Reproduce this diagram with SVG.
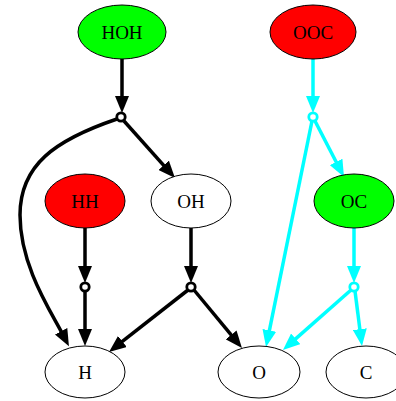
<svg xmlns="http://www.w3.org/2000/svg" width="396" height="401" viewBox="0 0 396 401">
<style>
.n ellipse{stroke:#000;stroke-width:1}
.n text{font-family:"Liberation Serif","Times New Roman",serif;font-size:19px;text-anchor:middle;dominant-baseline:central}
.k{stroke:#000;stroke-width:3.5;fill:none}
.c{stroke:#00ffff;stroke-width:3.5;fill:none}
.jk{stroke:#000;stroke-width:2.8;fill:#fff}
.jc{stroke:#00ffff;stroke-width:2.8;fill:#fff}
</style>
<defs>
<marker id="ak" viewBox="0 -7 17 14" markerWidth="17" markerHeight="14" refX="2" refY="0" orient="auto" markerUnits="userSpaceOnUse"><path d="M0,-7L17,0L0,7z" fill="#000"/></marker>
<marker id="ac" viewBox="0 -7 17 14" markerWidth="17" markerHeight="14" refX="2" refY="0" orient="auto" markerUnits="userSpaceOnUse"><path d="M0,-7L17,0L0,7z" fill="#00ffff"/></marker>
</defs>
<g id="edges">
<line class="k" x1="122" y1="59" x2="122" y2="98" marker-end="url(#ak)"/>
<line class="k" x1="124" y1="121" x2="165" y2="166.8" marker-end="url(#ak)"/>
<path class="k" d="M117,119 C55,140 20,165 20,215 C20,265 50,310 62,333" marker-end="url(#ak)"/>
<line class="k" x1="85" y1="228" x2="85" y2="268" marker-end="url(#ak)"/>
<line class="k" x1="85" y1="291" x2="85" y2="331" marker-end="url(#ak)"/>
<line class="k" x1="191" y1="228" x2="191" y2="268" marker-end="url(#ak)"/>
<line class="k" x1="188" y1="290" x2="120.8" y2="342.7" marker-end="url(#ak)"/>
<line class="k" x1="194" y1="290" x2="232.4" y2="336.4" marker-end="url(#ak)"/>
<line class="c" x1="313" y1="59" x2="313" y2="98" marker-end="url(#ac)"/>
<line class="c" x1="315" y1="121" x2="337.1" y2="163.7" marker-end="url(#ac)"/>
<line class="c" x1="312" y1="121" x2="269" y2="332.3" marker-end="url(#ac)"/>
<line class="c" x1="354" y1="228" x2="354" y2="268" marker-end="url(#ac)"/>
<line class="c" x1="351" y1="290" x2="294.2" y2="340.1" marker-end="url(#ac)"/>
<line class="c" x1="355" y1="291" x2="360.1" y2="331.1" marker-end="url(#ac)"/>
<circle class="jk" cx="121" cy="117" r="4.2"/>
<circle class="jc" cx="313" cy="117" r="4.2"/>
<circle class="jk" cx="85" cy="287" r="4.2"/>
<circle class="jk" cx="191" cy="287" r="4.2"/>
<circle class="jc" cx="354" cy="287" r="4.2"/>
</g>
<g id="HOH" class="n"><ellipse cx="122" cy="32" rx="44" ry="27" fill="#00ff00" stroke="#00ff00"/><text x="122" y="32">HOH</text></g>
<g id="OOC" class="n"><ellipse cx="313" cy="32" rx="43" ry="27" fill="#ff0000" stroke="#ff0000"/><text x="313" y="32">OOC</text></g>
<g id="HH" class="n"><ellipse cx="85" cy="201" rx="40" ry="27" fill="#ff0000" stroke="#ff0000"/><text x="85" y="201">HH</text></g>
<g id="OH" class="n"><ellipse cx="191" cy="201" rx="40" ry="27" fill="#fff"/><text x="191" y="201">OH</text></g>
<g id="OC" class="n"><ellipse cx="354" cy="201" rx="40" ry="27" fill="#00ff00" stroke="#00ff00"/><text x="354" y="201">OC</text></g>
<g id="H" class="n"><ellipse cx="85" cy="372" rx="40" ry="26" fill="#fff"/><text x="85" y="372">H</text></g>
<g id="O" class="n"><ellipse cx="259" cy="372" rx="41" ry="26" fill="#fff"/><text x="259" y="372">O</text></g>
<g id="C" class="n"><ellipse cx="366" cy="372" rx="40" ry="26" fill="#fff"/><text x="366" y="372">C</text></g>
</svg>
